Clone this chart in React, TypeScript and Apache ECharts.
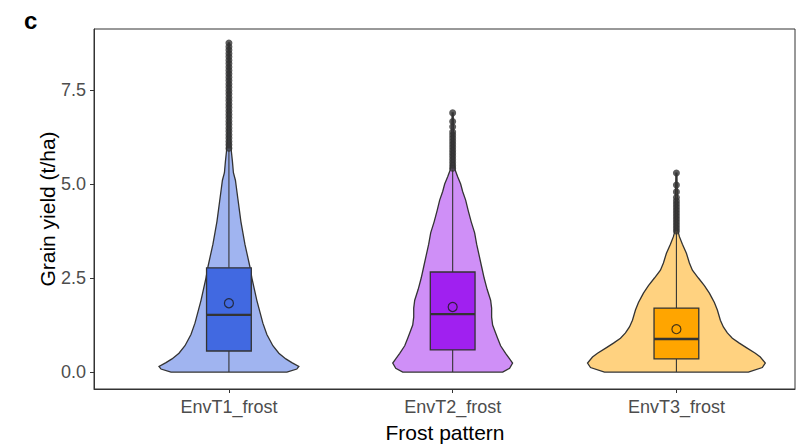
import React, { useEffect, useRef } from "react";
import * as echarts from "echarts";

const categories = ["EnvT1_frost", "EnvT2_frost", "EnvT3_frost"];
const yTicks = [0, 2.5, 5, 7.5];

// violin profiles: [grain yield, half-width (relative density units)]
const violinEnvT1 = [
  [0.0, 58], [0.08, 68], [0.15, 70], [0.25, 63], [0.35, 57], [0.5, 50], [0.7, 44], [1.0, 38],
  [1.3, 34], [1.6, 31], [1.9, 28], [2.2, 25.5], [2.5, 23], [2.8, 21], [3.1, 18.5], [3.4, 16],
  [3.7, 14], [4.0, 12], [4.3, 10.5], [4.6, 9], [4.9, 7.5], [5.1, 6.5], [5.3, 4.5], [5.6, 3.5],
  [5.85, 2.5], [6.2, 1.5], [7.5, 1], [8.75, 0.5],
];
const violinEnvT2 = [
  [0.0, 50], [0.1, 57], [0.24, 60], [0.35, 57], [0.5, 53], [0.7, 48], [0.9, 45], [1.04, 43],
  [1.25, 40], [1.46, 39], [1.7, 39], [1.91, 38], [2.2, 34.5], [2.5, 31.5], [2.8, 29], [3.1, 26.5],
  [3.4, 24], [3.7, 22], [4.0, 18.5], [4.3, 15.5], [4.57, 13], [4.8, 10], [5.0, 8], [5.19, 5],
  [5.37, 2.5], [5.6, 1.5], [6.89, 0.5],
];
const violinEnvT3 = [
  [0.0, 72], [0.12, 86], [0.24, 89], [0.4, 84], [0.5, 79], [0.65, 70], [0.77, 63], [0.9, 56],
  [1.04, 51], [1.2, 47], [1.38, 44], [1.65, 41], [1.85, 38], [2.0, 35], [2.1, 33], [2.3, 28],
  [2.5, 22], [2.71, 16], [2.9, 13], [3.16, 10], [3.4, 6], [3.6, 3], [3.75, 1.5], [4.5, 1], [5.29, 0.5],
];

// box statistics: [lower whisker, Q1, median, Q3, upper whisker]
const boxEnvT1 = [0, 0.56, 1.52, 2.77, 5.9];
const boxEnvT2 = [0, 0.59, 1.54, 2.66, 5.38];
const boxEnvT3 = [0, 0.35, 0.88, 1.7, 3.72];

const means = [1.83, 1.73, 1.14];

const outliersEnvT1 = [
  5.95, 6.04, 6.13, 6.22, 6.31, 6.4, 6.49, 6.58, 6.67, 6.76, 6.85, 6.94, 7.03, 7.12, 7.21,
  7.3, 7.39, 7.48, 7.57, 7.66, 7.75, 7.84, 7.93, 8.02, 8.11, 8.2, 8.29, 8.38, 8.47, 8.56, 8.65, 8.75,
];
const outliersEnvT2 = [
  5.42, 5.5, 5.58, 5.66, 5.74, 5.82, 5.9, 5.98, 6.06, 6.14, 6.22, 6.3, 6.38, 6.52, 6.66, 6.89,
];
const outliersEnvT3 = [
  3.75, 3.83, 3.91, 3.99, 4.07, 4.15, 4.23, 4.31, 4.39, 4.47, 4.55, 4.64, 4.79, 4.97, 5.29,
];

const violinFill = ["#A0B4F0", "#CF8FF7", "#FFD280"];
const boxFill = ["#4169E1", "#A020F0", "#FFA500"];
const OUTLINE = "#333333";
const FONT = "'Liberation Sans', Arial, sans-serif";
const DENSITY_SCALE = 224; // relative density units per category step
const BOX_HALF = 0.1;

export default function App() {
  const ref = useRef<HTMLDivElement>(null);
  useEffect(() => {
    if (!ref.current) return;
    const chart = echarts.init(ref.current, null, { renderer: "svg" });
    const violins = [violinEnvT1, violinEnvT2, violinEnvT3];
    const boxes = [boxEnvT1, boxEnvT2, boxEnvT3];
    const outliers = [outliersEnvT1, outliersEnvT2, outliersEnvT3];

    const violinSeries = violins.map((prof, i) => ({
      type: "custom",
      silent: true,
      z: 2,
      data: [[i + 1, 0]],
      renderItem: (_p: any, api: any) => {
        const cx = i + 1;
        const right = prof.map(([y, w]) => api.coord([cx + w / DENSITY_SCALE, y]));
        const left = prof
          .slice()
          .reverse()
          .map(([y, w]) => api.coord([cx - w / DENSITY_SCALE, y]));
        return {
          type: "polygon",
          shape: { points: right.concat(left) },
          style: { fill: violinFill[i], stroke: OUTLINE, lineWidth: 1.3 },
        };
      },
    }));

    const boxSeries = boxes.map((b, i) => ({
      type: "custom",
      silent: true,
      z: 3,
      data: [[i + 1, ...b]],
      renderItem: (_p: any, api: any) => {
        const cx = i + 1;
        const [lw, q1, med, q3, uw] = b;
        const pLw = api.coord([cx, lw]);
        const pQ1 = api.coord([cx, q1]);
        const pQ3 = api.coord([cx, q3]);
        const pUw = api.coord([cx, uw]);
        const tl = api.coord([cx - BOX_HALF, q3]);
        const br = api.coord([cx + BOX_HALF, q1]);
        const ml = api.coord([cx - BOX_HALF, med]);
        const mr = api.coord([cx + BOX_HALF, med]);
        return {
          type: "group",
          children: [
            {
              type: "line",
              shape: { x1: pLw[0], y1: pLw[1], x2: pQ1[0], y2: pQ1[1] },
              style: { stroke: OUTLINE, lineWidth: 1.1 },
            },
            {
              type: "line",
              shape: { x1: pQ3[0], y1: pQ3[1], x2: pUw[0], y2: pUw[1] },
              style: { stroke: OUTLINE, lineWidth: 1.1 },
            },
            {
              type: "rect",
              shape: { x: tl[0], y: tl[1], width: br[0] - tl[0], height: br[1] - tl[1] },
              style: { fill: boxFill[i], stroke: OUTLINE, lineWidth: 1.3 },
            },
            {
              type: "line",
              shape: { x1: ml[0], y1: ml[1], x2: mr[0], y2: mr[1] },
              style: { stroke: OUTLINE, lineWidth: 2.4 },
            },
          ],
        };
      },
    }));

    const outlierSeries = outliers.map((vals, i) => ({
      type: "scatter",
      silent: true,
      z: 4,
      symbol: "circle",
      symbolSize: 7,
      itemStyle: { color: OUTLINE },
      data: vals.map((v) => [i + 1, v]),
    }));

    const meanSeries = {
      type: "scatter",
      silent: true,
      z: 5,
      symbol: "circle",
      symbolSize: 9,
      itemStyle: { color: "transparent", borderColor: "#1a1a1a", borderWidth: 1.2 },
      data: means.map((m, i) => [i + 1, m]),
    };

    chart.setOption({
      animation: false,
      backgroundColor: "#ffffff",
      grid: {
        left: 94,
        right: 15,
        top: 29,
        bottom: 55,
        show: true,
        borderColor: OUTLINE,
        borderWidth: 1,
        backgroundColor: "#ffffff",
      },
      xAxis: {
        type: "value",
        min: 0.397,
        max: 3.53,
        splitLine: { show: false },
        axisLine: { show: true, onZero: false, lineStyle: { color: OUTLINE, width: 1 } },
        axisTick: { show: true, customValues: [1, 2, 3], length: 4, lineStyle: { color: OUTLINE } },
        axisLabel: {
          customValues: [1, 2, 3],
          formatter: (v: number) => categories[Math.round(v) - 1] ?? "",
          color: "#4D4D4D",
          fontSize: 18,
          fontFamily: FONT,
          margin: 9,
        },
      },
      yAxis: {
        type: "value",
        min: -0.45,
        max: 9.12,
        splitLine: { show: false },
        axisLine: { show: true, onZero: false, lineStyle: { color: OUTLINE, width: 1 } },
        axisTick: { show: true, customValues: yTicks, length: 4, lineStyle: { color: OUTLINE } },
        axisLabel: {
          customValues: yTicks,
          formatter: (v: number) => v.toFixed(1),
          color: "#4D4D4D",
          fontSize: 18,
          fontFamily: FONT,
          margin: 8,
        },
      },
      graphic: [
        {
          type: "text",
          left: 24,
          top: 8,
          style: { text: "c", font: `bold 24px ${FONT}`, fill: "#000" },
        },
        {
          type: "text",
          x: 47,
          y: 209,
          rotation: Math.PI / 2,
          style: {
            text: "Grain yield (t/ha)",
            font: `21px ${FONT}`,
            fill: "#000",
            align: "center",
            verticalAlign: "middle",
          },
        },
        {
          type: "text",
          x: 445,
          y: 432,
          style: {
            text: "Frost pattern",
            font: `21px ${FONT}`,
            fill: "#000",
            align: "center",
            verticalAlign: "middle",
          },
        },
      ],
      series: [...violinSeries, ...boxSeries, ...outlierSeries, meanSeries],
    } as any);
    return () => chart.dispose();
  }, []);
  return (
    <div
      ref={ref}
      style={{ position: "absolute", left: 0, top: 0, width: 810, height: 444 }}
    />
  );
}
